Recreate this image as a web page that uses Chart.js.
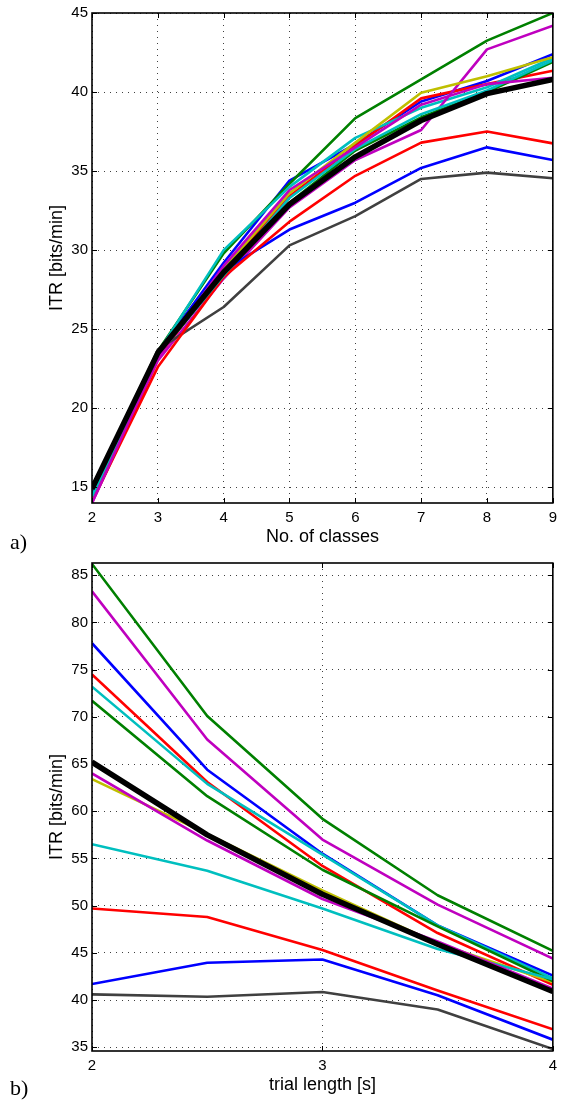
<!DOCTYPE html>
<html>
<head>
<meta charset="utf-8">
<script src="https://cdn.jsdelivr.net/npm/chart.js@4.4.0/dist/chart.umd.min.js"></script>
<style>
  html, body { margin: 0; padding: 0; background: #fff; }
  #page { position: relative; width: 563px; height: 1100px; overflow: hidden; background: #fff; }
  .panel { position: absolute; left: 0; width: 563px; height: 550px; }
  .tag { position: absolute; left: 10px; font-family: "Liberation Serif", "DejaVu Serif", serif; font-size: 22px; line-height: 26px; color: #000; }
</style>
</head>
<body>
<div id="page">
  <div class="panel" style="top:0"><canvas id="chartA" width="563" height="550"></canvas></div>
  <div class="panel" style="top:550px"><canvas id="chartB" width="563" height="550"></canvas></div>
  <div class="tag" style="top:529px">a)</div>
  <div class="tag" style="top:1075px">b)</div>
</div>
<script>
// =========================================================
// Datos panel a) ITR vs. número de clases
// =========================================================
const classes = [2, 3, 4, 5, 6, 7, 8, 9];

const classBlue1    = [14.6, 23.5, 29.2, 34.4, 36.7, 39.4, 40.7, 42.4];
const classGreen1   = [14.6, 23.6, 29.8, 34.2, 38.35, 40.8, 43.25, 45.0];
const classRed1     = [14.2, 23.2, 28.6, 33.4, 36.6, 39.6, 40.5, 41.35];
const classCyan1    = [14.5, 23.5, 30.0, 34.0, 37.1, 39.0, 40.3, 42.15];
const classMagenta1 = [14.0, 23.0, 28.2, 32.7, 35.7, 37.6, 42.7, 44.2];
const classYellow   = [14.3, 23.3, 28.8, 33.6, 36.8, 39.95, 41.0, 42.2];
const classGray     = [14.6, 23.7, 26.4, 30.3, 32.15, 34.5, 34.9, 34.55];
const classBlue2    = [14.5, 23.5, 28.7, 31.3, 33.0, 35.2, 36.5, 35.7];
const classGreen2   = [14.4, 23.4, 28.4, 33.0, 36.3, 38.4, 40.0, 41.9];
const classRed2     = [14.1, 22.6, 28.3, 31.8, 34.7, 36.8, 37.5, 36.75];
const classCyan2    = [14.4, 23.4, 28.4, 33.3, 36.4, 38.6, 40.1, 42.0];
const classMagenta2 = [14.0, 23.2, 29.0, 33.8, 36.5, 39.2, 40.5, 40.9];
const classMean     = [14.9, 23.5, 28.6, 32.9, 35.9, 38.2, 39.9, 40.8];

const classTicksY = [15, 20, 25, 30, 35, 40, 45];

// =========================================================
// Datos panel b) ITR vs. duración del ensayo
// =========================================================
const trialLengths = [2, 2.5, 3, 3.5, 4];

const trialBlue1    = [77.8, 64.4, 55.5, 47.9, 42.6];
const trialGreen1   = [86.2, 70.1, 59.2, 51.1, 45.2];
const trialRed1     = [74.5, 63.1, 54.2, 47.1, 41.6];
const trialCyan1    = [73.2, 62.9, 55.4, 47.9, 42.3];
const trialMagenta1 = [83.3, 67.6, 57.0, 50.1, 44.4];
const trialYellow   = [63.4, 57.6, 51.6, 46.0, 41.9];
const trialGray     = [40.6, 40.35, 40.85, 39.0, 34.8];
const trialBlue2    = [41.7, 43.95, 44.3, 40.5, 35.8];
const trialGreen2   = [71.7, 61.6, 53.8, 47.8, 42.0];
const trialRed2     = [49.7, 48.8, 45.3, 41.0, 36.9];
const trialCyan2    = [56.5, 53.7, 49.7, 45.4, 42.2];
const trialMagenta2 = [64.0, 56.9, 50.7, 46.2, 41.2];
const trialMean     = [65.2, 57.5, 51.2, 45.9, 40.9];

const trialTicksY = [35, 40, 45, 50, 55, 60, 65, 70, 75, 80, 85];

// colores por orden de dibujo (ciclo de MATLAB)
const lineColors = ['#0000FF', '#008000', '#FF0000', '#00BFBF', '#BF00BF', '#BFBF00', '#404040',
                    '#0000FF', '#008000', '#FF0000', '#00BFBF', '#BF00BF'];

const FONT = '"Liberation Sans", Arial, sans-serif';

// =========================================================
// Plugin: caja del eje y marcas hacia dentro (estilo MATLAB)
// =========================================================
const matlabBox = {
    id: 'matlabBox',
    afterDraw(chart) {
        const { ctx, chartArea: a, scales } = chart;
        const len = 5;
        ctx.save();
        ctx.strokeStyle = '#000';
        ctx.lineWidth = 1;
        ctx.beginPath();
        scales.x.ticks.forEach(t => {
            const px = Math.round(scales.x.getPixelForValue(t.value)) + 0.5;
            ctx.moveTo(px, a.bottom); ctx.lineTo(px, a.bottom - len);
            ctx.moveTo(px, a.top); ctx.lineTo(px, a.top + len);
        });
        scales.y.ticks.forEach(t => {
            const py = Math.round(scales.y.getPixelForValue(t.value)) + 0.5;
            ctx.moveTo(a.left, py); ctx.lineTo(a.left + len, py);
            ctx.moveTo(a.right, py); ctx.lineTo(a.right - len, py);
        });
        ctx.stroke();
        ctx.lineWidth = 1.6;
        ctx.strokeRect(a.left, a.top, a.right - a.left, a.bottom - a.top);
        ctx.restore();
    }
};

function buildDatasets(xs, series, mean) {
    const sets = series.map((ys, i) => ({
        data: xs.map((x, j) => ({ x: x, y: ys[j] })),
        borderColor: lineColors[i],
        borderWidth: 2.6,
        order: 20 - i
    }));
    sets.push({
        data: xs.map((x, j) => ({ x: x, y: mean[j] })),
        borderColor: '#000000',
        borderWidth: 5.5,
        order: 0
    });
    return sets;
}

function createPanel(canvasId, cfg) {
    const ctx = document.getElementById(canvasId).getContext('2d');
    new Chart(ctx, {
        type: 'line',
        data: { datasets: buildDatasets(cfg.xs, cfg.series, cfg.mean) },
        options: {
            responsive: false,
            animation: false,
            devicePixelRatio: 1,
            layout: { padding: { top: cfg.padTop, right: 4, left: 0, bottom: 0 } },
            elements: {
                point: { radius: 0 },
                line: { tension: 0, fill: false, borderJoinStyle: 'round', borderCapStyle: 'butt' }
            },
            plugins: { legend: { display: false }, tooltip: { enabled: false } },
            scales: {
                x: {
                    type: 'linear',
                    min: cfg.xMin, max: cfg.xMax,
                    afterBuildTicks: s => { s.ticks = cfg.xTicks.map(v => ({ value: v })); },
                    afterFit: s => { s.height = cfg.xAxisHeight; },
                    grid: { color: 'rgba(0,0,0,0.75)', lineWidth: 1, drawTicks: false },
                    border: { display: false, dash: [1, 5] },
                    ticks: { color: '#000', font: { family: FONT, size: 15 }, padding: 6, maxRotation: 0 },
                    title: { display: true, text: cfg.xTitle, color: '#000',
                             font: { family: FONT, size: 18 }, padding: { top: 0, bottom: cfg.xTitlePad } }
                },
                y: {
                    type: 'linear',
                    min: cfg.yMin, max: cfg.yMax,
                    afterBuildTicks: s => { s.ticks = cfg.yTicks.map(v => ({ value: v })); },
                    afterFit: s => { s.width = 92; },
                    grid: { color: 'rgba(0,0,0,0.75)', lineWidth: 1, drawTicks: false },
                    border: { display: false, dash: [1, 5] },
                    ticks: { color: '#000', font: { family: FONT, size: 15 }, padding: 4 },
                    title: { display: true, text: 'ITR [bits/min]', color: '#000',
                             font: { family: FONT, size: 18 }, padding: { top: 46, bottom: 0 } }
                }
            }
        },
        plugins: [matlabBox]
    });
}

createPanel('chartA', {
    xs: classes,
    series: [classBlue1, classGreen1, classRed1, classCyan1, classMagenta1, classYellow, classGray,
             classBlue2, classGreen2, classRed2, classCyan2, classMagenta2],
    mean: classMean,
    xMin: 2, xMax: 9, xTicks: classes,
    yMin: 14, yMax: 45, yTicks: classTicksY,
    padTop: 13, xAxisHeight: 47, xTitlePad: 2,
    xTitle: 'No. of classes'
});

createPanel('chartB', {
    xs: trialLengths,
    series: [trialBlue1, trialGreen1, trialRed1, trialCyan1, trialMagenta1, trialYellow, trialGray,
             trialBlue2, trialGreen2, trialRed2, trialCyan2, trialMagenta2],
    mean: trialMean,
    xMin: 2, xMax: 4, xTicks: [2, 3, 4],
    yMin: 34.6, yMax: 86.3, yTicks: trialTicksY,
    padTop: 10, xAxisHeight: 49, xTitlePad: 4,
    xTitle: 'trial length [s]'
});
</script>
</body>
</html>
